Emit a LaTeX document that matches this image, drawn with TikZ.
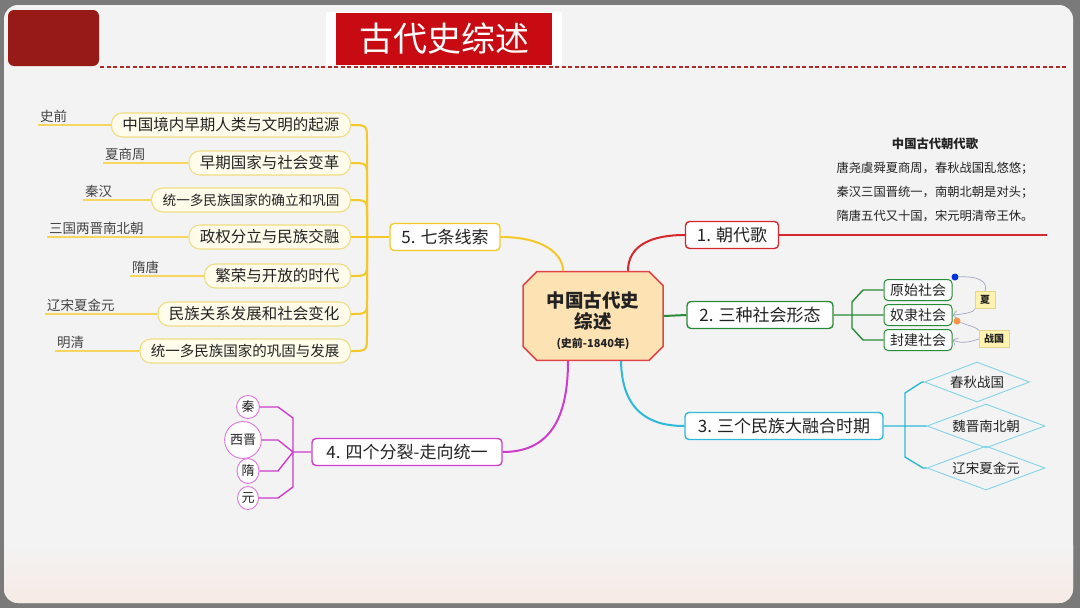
\documentclass[tikz,border=0pt]{standalone}
\usepackage{fontspec}
\setmainfont{Noto Sans CJK SC}
\usepackage{tikz}
\usetikzlibrary{calc, arrows.meta, shapes.geometric, shapes.misc}
\usepackage{xcolor}
\definecolor{pagebg}{RGB}{243, 243, 243}
\definecolor{bottompink}{RGB}{246, 234, 229}
\definecolor{frame}{RGB}{122, 122, 122}
\definecolor{blockred}{RGB}{152, 26, 22}
\definecolor{titlered}{RGB}{200, 10, 18}
\definecolor{dashred}{RGB}{172, 42, 42}
\definecolor{redline}{RGB}{212, 40, 45}
\definecolor{greenline}{RGB}{40, 140, 55}
\definecolor{cyanline}{RGB}{45, 185, 215}
\definecolor{magline}{RGB}{205, 60, 205}
\definecolor{yelline}{RGB}{245, 200, 40}
\definecolor{capfill}{RGB}{255, 252, 236}
\definecolor{capdraw}{RGB}{240, 220, 130}
\definecolor{rootfill}{RGB}{253, 226, 180}
\definecolor{rootdraw}{RGB}{225, 70, 70}
\definecolor{notefill}{RGB}{255, 243, 175}
\definecolor{notedraw}{RGB}{230, 212, 140}
\definecolor{relgray}{RGB}{160, 168, 190}
\definecolor{textdark}{RGB}{34, 34, 34}
\newcommand{\fsz}[1]{\fontsize{#1pt}{#1pt}\selectfont}

\begin{document}
\begin{tikzpicture}[x=1pt, y=-1pt,
  topic/.style={draw, line width=1.4pt, rounded corners=4pt, fill=white, text=textdark,
    minimum height=27pt, inner sep=0pt, font=\fsz{17}},
  thread/.style={draw=capdraw, line width=1.1pt, fill=capfill, rounded corners=11pt,
    minimum height=24pt, inner xsep=11pt, inner ysep=0pt, text=textdark, anchor=east},
  era/.style={text=textdark!85, anchor=south west, inner sep=1pt, font=\fsz{13.5}},
  soc/.style={draw=greenline, line width=1pt, rounded corners=4pt, fill=white,
    minimum width=68pt, minimum height=21pt, inner sep=0pt, text=textdark, font=\fsz{14}},
  split/.style={ellipse, draw=magline!70, line width=0.9pt, fill=white, inner sep=0pt,
    text=textdark, font=\fsz{13}},
  fusion/.style={diamond, aspect=2.65, draw=cyanline!60, line width=0.9pt, inner sep=0pt,
    text=textdark, font=\fsz{13.5}},
  note/.style={draw=notedraw, fill=notefill, inner sep=0pt, minimum height=17pt,
    text=textdark, font=\fsz{10}\bfseries},
  rel/.style={relgray, line width=0.7pt}]
  \useasboundingbox (0,0) rectangle (1080,608);
  \fill[frame] (0,0) rectangle (1080,608);
  \fill[pagebg, rounded corners=14pt] (4,5) rectangle (1073,603);
  \begin{scope}
    \clip[rounded corners=14pt] (4,5) rectangle (1073,603);
    \shade[top color=pagebg, bottom color=bottompink] (4,545) rectangle (1073,603);
  \end{scope}

  % title bar
  \fill[blockred, rounded corners=6pt] (8,10) rectangle (99,66);
  \draw[dashred, line width=1.4pt, dash pattern=on 4pt off 2.5pt] (100,67) -- (1068,67);
  \fill[white] (326,12) rectangle (562,66);
  \node[fill=titlered, text=white, minimum width=216pt, minimum height=52pt, inner sep=0pt,
    font=\fsz{34}] (title) at (444,39) {古代史综述};

  % centre
  \node[chamfered rectangle, chamfered rectangle xsep=7pt, chamfered rectangle ysep=7pt,
    draw=rootdraw, line width=1.5pt, fill=rootfill, minimum width=140pt, minimum height=85pt,
    align=center, text=textdark, font=\fontsize{18.5pt}{21pt}\selectfont\bfseries]
    (root) at (593,316) {\rule{0pt}{26pt}中国古代史\\综述\\[-2pt]{\fsz{11}(史前-1840年)}};

  % main topics
  \node[topic, draw=redline, minimum width=93pt] (b1) at (732,235) {1. 朝代歌};
  \node[topic, draw=greenline, minimum width=146pt] (b2) at (760,315) {2. 三种社会形态};
  \node[topic, draw=cyanline, minimum width=198pt] (b3) at (784,426) {3. 三个民族大融合时期};
  \node[topic, draw=magline, minimum width=190pt] (b4) at (407,452) {4. 四个分裂-走向统一};
  \node[topic, draw=yelline, minimum width=110pt] (b5) at (445,237) {5. 七条线索};

  \draw[redline, line width=2pt] ($(root.north)+(35,0)$) .. controls (628,245) and (652,235) .. (b1.west);
  \draw[greenline, line width=2pt] (root.east) -- (b2.west);
  \draw[cyanline, line width=2pt] ($(root.south)+(28,0)$) .. controls (622,410) and (648,426) .. (b3.west);
  \draw[magline, line width=2pt] ($(root.south)+(-25,0)$) .. controls (568,425) and (545,452) .. (b4.east);
  \draw[yelline, line width=2pt] ($(root.north)+(-30,0)$) .. controls (563,255) and (545,237) .. (b5.east);

  % 1
  \coordinate (songend) at (1047,235);
  \draw[redline, line width=1.6pt] (b1.east) -- (songend);
  \node[align=center, text=textdark, font=\fontsize{12.3pt}{24pt}\selectfont] (song) at (935,180)
    {{\bfseries 中国古代朝代歌}\\唐尧虞舜夏商周，春秋战国乱悠悠；\\秦汉三国晋统一，南朝北朝是对头；\\隋唐五代又十国，宋元明清帝王休。};

  % 2
  \node[soc] (s1) at (918,290) {原始社会};
  \node[soc] (s2) at (918,315) {奴隶社会};
  \node[soc] (s3) at (918,340) {封建社会};
  \coordinate (gj) at (852,315);
  \draw[greenline, line width=1.4pt] (b2.east) -- (gj)
    (gj) -- ++(0,-13) -- ++(11,-12) -- (s1.west)
    (gj) -- (s2.west)
    (gj) -- ++(0,13) -- ++(11,12) -- (s3.west);
  \node[circle, fill=blue!75!cyan!85!black, minimum size=7pt, inner sep=0pt] (bdot) at (955,277) {};
  \node[circle, fill=orange!85!red!75, minimum size=7pt, inner sep=0pt] (odot) at (957,321) {};
  \node[note, minimum width=20pt] (xia) at (985,300) {夏};
  \node[note, minimum width=30pt] (zg) at (994,339) {战国};
  \draw[rel] (bdot) .. controls (980,276) and (988,282) .. (xia.north);
  \draw[rel, -{Straight Barb[length=4pt]}] (xia.south west) .. controls (975,312) and (965,314) .. (s2.east);
  \draw[rel] (odot) .. controls (970,326) and (978,328) .. (zg.north west);
  \draw[rel, -{Straight Barb[length=4pt]}] (zg.west) .. controls (970,342) and (962,344) .. (s3.east);

  % 3
  \node[fusion, minimum width=105pt, minimum height=40pt] (d1) at (977,382) {春秋战国};
  \node[fusion, minimum width=118pt, minimum height=44pt] (d2) at (986,426) {魏晋南北朝};
  \node[fusion, minimum width=118pt, minimum height=44pt] (d3) at (986,468) {辽宋夏金元};
  \coordinate (cj) at (905,426);
  \draw[cyanline, line width=1.4pt] (b3.east) -- (cj)
    (cj) -- ++(0,-33) -- ++(17,-11) -- (d1.west)
    (cj) -- (d2.west)
    (cj) -- ++(0,31) -- ++(18,11) -- (d3.west);

  % 4
  \node[split, minimum width=23pt, minimum height=23pt] (e1) at (248,407) {秦};
  \node[split, minimum width=33pt, minimum height=37pt] (e2) at (243,440) {西晋};
  \node[split, minimum width=22pt, minimum height=25pt] (e3) at (248,471) {隋};
  \node[split, minimum width=21pt, minimum height=23pt] (e4) at (248,498) {元};
  \coordinate (mj) at (293,452);
  \draw[magline, line width=1.4pt] (b4.west) -- (mj)
    (mj) -- ++(0,-34) -- ++(-15,-11) -- (e1.east)
    (mj) -- ++(-15,-12) -- (e2.east)
    (mj) -- ++(-15,19) -- (e3.east)
    (mj) -- ++(0,35) -- ++(-15,11) -- (e4.east);

  % 5
  \coordinate (yj) at (367,237);
  \foreach \i/\y/\x/\era/\txt/\s in {
      1/125/38/史前/中国境内早期人类与文明的起源/15.5,
      2/163/103/夏商周/早期国家与社会变革/15.5,
      3/200/83/秦汉/统一多民族国家的确立和巩固/13.6,
      4/237/47/三国两晋南北朝/政权分立与民族交融/15.5,
      5/276/130/隋唐/繁荣与开放的时代/15.5,
      6/314/45/辽宋夏金元/民族关系发展和社会变化/15.5,
      7/351/55/明清/统一多民族国家的巩固与发展/14.5} {
    \node[thread, font=\fsz{\s}] (t\i) at (351,\y) {\txt};
    \coordinate (l\i) at (\x,\y);
    \draw[yelline!75, line width=1.2pt] (l\i) -- (t\i.west);
    \node[era] (a\i) at ($(l\i)+(1,-1)$) {\era};
    \ifnum\i=4
      \draw[yelline, line width=2pt] (t\i.east) -- (yj);
    \else
      \pgfmathsetmacro\yy{\y<237 ? \y+16 : \y-16}
      \draw[yelline, line width=2pt] (t\i.east) .. controls (367,\y) .. (367,\yy) -- (yj);
    \fi
  }
  \draw[yelline, line width=2pt] (yj) -- (b5.west);
\end{tikzpicture}
\end{document}
